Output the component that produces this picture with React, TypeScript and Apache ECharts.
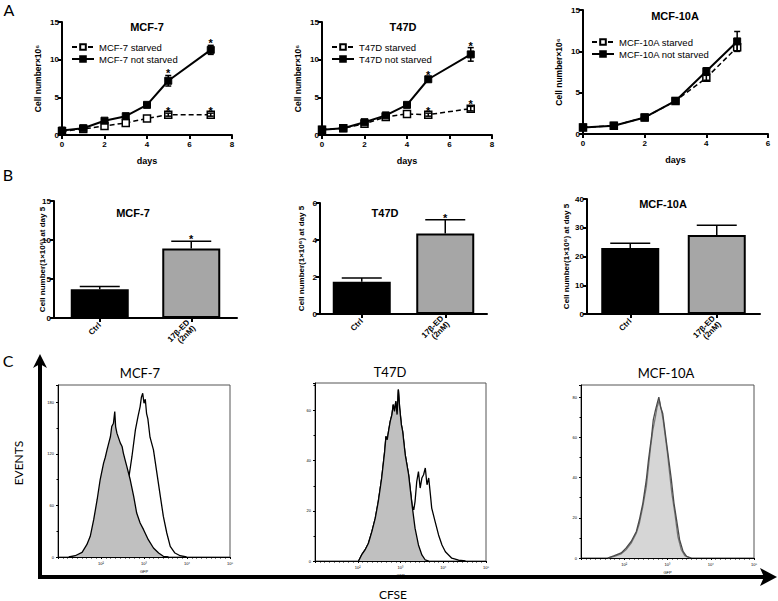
import React, { useEffect, useRef } from "react";
import * as echarts from "echarts";

const FONT = "Liberation Sans, Arial, sans-serif";
const CFONT = "Lato, 'Open Sans', sans-serif";

// ---------- Panel A: growth curves ----------
const daysA = [0, 1, 2, 3, 4, 5, 7];
const days10A = [0, 1, 2, 3, 4, 5];
const mcf7Starved = [0.5, 0.8, 1.2, 1.6, 2.2, 2.7, 2.7];
const mcf7StarvedErr = [0, 0, 0, 0, 0, 0.2, 0.2];
const mcf7StarvedStar = [0, 0, 0, 0, 0, 1, 1];
const mcf7NotStarved = [0.6, 0.9, 1.9, 2.5, 4.0, 7.2, 11.3];
const mcf7NotStarvedErr = [0, 0, 0, 0, 0.1, 0.7, 0.6];
const mcf7NotStarvedStar = [0, 0, 0, 0, 0, 1, 1];
const t47dStarved = [0.7, 0.9, 1.5, 2.4, 2.8, 2.7, 3.5];
const t47dStarvedErr = [0, 0, 0, 0, 0, 0.2, 0.3];
const t47dStarvedStar = [0, 0, 0, 0, 0, 1, 1];
const t47dNotStarved = [0.7, 0.9, 1.7, 2.6, 4.0, 7.4, 10.7];
const t47dNotStarvedErr = [0, 0, 0, 0, 0, 0.3, 0.9];
const t47dNotStarvedStar = [0, 0, 0, 0, 0, 1, 1];
const mcf10aStarved = [0.8, 1.0, 2.0, 4.0, 6.8, 10.5];
const mcf10aStarvedErr = [0, 0, 0, 0, 0.3, 0.5];
const mcf10aNotStarved = [0.8, 1.0, 2.0, 4.0, 7.6, 11.2];
const mcf10aNotStarvedErr = [0, 0, 0, 0, 0.4, 1.2];
const noStars6 = [0, 0, 0, 0, 0, 0];

// ---------- Panel B: bars at day 5 ----------
const barCats = ["Ctrl", "17β-ED\n(2nM)"];
const barIdx = [0, 1];
const mcf7Bar = [3.7, 8.9];
const mcf7BarErr = [0.35, 0.95];
const mcf7BarStar = [0, 1];
const t47dBar = [1.75, 4.35];
const t47dBarErr = [0.2, 0.75];
const t47dBarStar = [0, 1];
const mcf10aBar = [23.0, 27.5];
const mcf10aBarErr = [1.6, 3.4];
const mcf10aBarStar = [0, 0];

// ---------- Panel C: CFSE histograms (x = log10 fluorescence, y = events) ----------
const hMcf7Filled = [[1.25,0],[1.40,1.5],[1.56,5.4],[1.67,14.3],[1.75,24],[1.83,43.4],[1.91,66.6],[1.98,89.8],[2.06,109.1],[2.10,116],[2.14,124.6],[2.18,132.4],[2.22,140.1],[2.25,151.7],[2.29,155.6],[2.32,169.2],[2.34,151.7],[2.37,144],[2.41,138.2],[2.45,132.4],[2.49,128.5],[2.52,120.8],[2.56,113],[2.60,105.3],[2.68,89.8],[2.76,70.5],[2.83,51.1],[2.91,39.5],[2.99,31.8],[3.10,20.1],[3.22,10.5],[3.34,4.6],[3.45,0.8],[3.57,0]];
const hMcf7Open = [[1.94,0],[2.18,4.6],[2.33,16.3],[2.45,35.6],[2.56,62.7],[2.64,89.8],[2.72,116.9],[2.80,147.8],[2.86,163.3],[2.91,174.9],[2.94,185.8],[2.97,190.4],[3.00,178.8],[3.03,183.4],[3.06,166.8],[3.09,160.6],[3.14,139.3],[3.22,124.6],[3.30,97.5],[3.38,70.5],[3.45,47.2],[3.53,27.9],[3.61,12.4],[3.72,4.6],[3.84,1.5],[3.99,0]];
const hT47dFilled = [[2.02,0],[2.09,2.4],[2.17,4.4],[2.25,7.1],[2.33,11.7],[2.41,17.1],[2.48,23.7],[2.56,33.1],[2.63,43.7],[2.66,49.7],[2.69,48.4],[2.72,51.7],[2.76,55.7],[2.80,58.4],[2.83,62.4],[2.86,59.7],[2.89,63.7],[2.92,58.4],[2.95,68.4],[2.98,61.1],[3.02,54.4],[3.05,51.7],[3.11,42.4],[3.19,34.4],[3.27,22.4],[3.34,13.1],[3.42,6.4],[3.50,2.4],[3.58,0.4],[3.66,0]];
const hT47dOpen = [[2.02,0],[2.09,2.4],[2.17,4.4],[2.25,7.1],[2.33,11.7],[2.41,17.1],[2.48,23.7],[2.56,33.1],[2.63,43.7],[2.66,49.7],[2.69,48.4],[2.72,51.7],[2.76,55.7],[2.80,58.4],[2.83,62.4],[2.86,59.7],[2.89,63.7],[2.92,58.4],[2.95,68.4],[2.98,61.1],[3.02,54.4],[3.05,51.7],[3.11,42.4],[3.19,34.4],[3.27,22.4],[3.31,20.4],[3.34,23.7],[3.38,31.7],[3.42,35.7],[3.46,29.1],[3.50,33.1],[3.54,34.4],[3.58,37.1],[3.62,30.4],[3.66,33.1],[3.70,26.4],[3.73,21.1],[3.81,15.7],[3.89,10.4],[3.97,6.4],[4.05,3.7],[4.20,1.1],[4.36,0.3],[4.52,0]];
const hMcf10aFilled = [[1.62,0],[1.77,0.8],[1.93,2.1],[2.04,4.1],[2.16,7.4],[2.28,12.4],[2.35,17.3],[2.43,25.6],[2.51,35.5],[2.56,45.4],[2.61,55.3],[2.66,63.5],[2.72,70.1],[2.76,75.1],[2.81,78.4],[2.86,73.4],[2.90,68.5],[2.95,60.2],[3.00,52.0],[3.05,42.1],[3.10,32.2],[3.17,22.3],[3.24,10.7],[3.32,4.1],[3.40,1.2],[3.52,0]];
const hMcf10aOpen = [[1.62,0],[1.77,1.2],[1.93,2.5],[2.04,4.9],[2.16,8.2],[2.28,13.2],[2.35,19.0],[2.43,27.2],[2.51,38.8],[2.56,48.7],[2.63,60.2],[2.67,68.5],[2.72,73.4],[2.76,76.7],[2.80,80.0],[2.84,75.1],[2.89,71.8],[2.93,65.2],[2.98,56.9],[3.03,48.7],[3.09,38.8],[3.15,27.2],[3.21,19.0],[3.28,9.1],[3.36,3.3],[3.44,0.8],[3.55,0]];
const histXTicks = ["", "10²", "10³", "10⁴", "10⁵"];

const boldLabel = { color: "#000", fontFamily: FONT, fontWeight: "bold", fontSize: 8 };

function gpAxisBase() {
  return {
    axisLine: { show: true, lineStyle: { color: "#000", width: 2 } },
    axisTick: { show: true, length: 4, lineStyle: { color: "#000", width: 2 } },
    splitLine: { show: false },
  };
}

function lineX(g: number, max: number) {
  return {
    ...gpAxisBase(),
    gridIndex: g, type: "value", min: 0, max, interval: 2,
    name: "days", nameLocation: "middle", nameGap: 21,
    nameTextStyle: { ...boldLabel, fontSize: 9 },
    axisLabel: { ...boldLabel, margin: 5 },
  };
}
function lineY(g: number) {
  return {
    ...gpAxisBase(),
    gridIndex: g, type: "value", min: 0, max: 15, interval: 5,
    name: "Cell number×10⁶", nameLocation: "middle", nameGap: 20,
    nameTextStyle: { ...boldLabel, fontSize: 8.5 },
    axisLabel: { ...boldLabel, margin: 3 },
  };
}
function barX(g: number) {
  return {
    ...gpAxisBase(),
    gridIndex: g, type: "category", data: barCats,
    axisTick: { show: true, alignWithLabel: true, length: 4, lineStyle: { color: "#000", width: 2 } },
    axisLabel: { ...boldLabel, rotate: 45, margin: 6, lineHeight: 8 },
  };
}
function barY(g: number, max: number, interval: number, gap: number) {
  return {
    ...gpAxisBase(),
    gridIndex: g, type: "value", min: 0, max, interval,
    name: "Cell number(1×10⁶) at day 5", nameLocation: "middle", nameGap: gap,
    nameMoveOverlap: false,
    nameTextStyle: { ...boldLabel, fontSize: 8 },
    axisLabel: { ...boldLabel, margin: 3 },
  };
}
function histX(g: number) {
  return {
    gridIndex: g, type: "value", min: 1, max: 5, interval: 1,
    name: "GFP", nameLocation: "middle", nameGap: 12,
    nameTextStyle: { fontSize: 4, color: "#000" },
    axisLine: { show: true, lineStyle: { color: "#000", width: 1 } },
    axisTick: { show: true, length: 2, lineStyle: { color: "#000" } },
    minorTick: { show: true, splitNumber: 9, length: 1.5, lineStyle: { color: "#000" } },
    axisLabel: { fontSize: 4, color: "#000", margin: 4, formatter: (v: number) => histXTicks[Math.round(v) - 1] || "" },
    splitLine: { show: false },
    minorSplitLine: { show: false },
  };
}
function histY(g: number, max: number, interval: number) {
  return {
    gridIndex: g, type: "value", min: 0, max, interval,
    axisLine: { show: true, lineStyle: { color: "#000", width: 1 } },
    axisTick: { show: true, length: 2, lineStyle: { color: "#000" } },
    minorTick: { show: true, splitNumber: 2, length: 1.5, lineStyle: { color: "#000" } },
    axisLabel: { fontSize: 4, color: "#000", margin: 4, showMaxLabel: false },
    splitLine: { show: false },
    minorSplitLine: { show: false },
  };
}

function lineSeries(name: string, g: number, xs: number[], ys: number[], starved: boolean) {
  return {
    type: "line", name, xAxisIndex: g, yAxisIndex: g,
    data: xs.map((x, i) => [x, ys[i]]),
    symbol: "rect", symbolSize: 7, showAllSymbol: true,
    lineStyle: { color: "#000", width: starved ? 1.5 : 2, type: starved ? [5, 3] : "solid" },
    itemStyle: starved
      ? { color: "#fff", borderColor: "#000", borderWidth: 1.5 }
      : { color: "#000", borderColor: "#000", borderWidth: 1 },
    z: starved ? 3 : 4,
  };
}

function errSeries(g: number, xs: number[], ys: number[], errs: number[], stars: number[], both: boolean, cap: number) {
  return {
    type: "custom", xAxisIndex: g, yAxisIndex: g, silent: true, z: 10,
    data: xs.map((x, i) => [x, ys[i], errs[i], stars[i]]).filter((d) => d[2] > 0 || d[3] > 0),
    encode: { x: 0, y: 1 },
    renderItem: (_p: any, api: any) => {
      const x = api.value(0), y = api.value(1), e = api.value(2), s = api.value(3);
      const t = api.coord([x, y + e]);
      const b = api.coord([x, both ? y - e : y]);
      const hw = cap / 2;
      const st = { stroke: "#000", lineWidth: 1.5 };
      const children: any[] = [];
      if (e > 0) {
        children.push({ type: "line", shape: { x1: b[0], y1: b[1], x2: t[0], y2: t[1] }, style: st });
        children.push({ type: "line", shape: { x1: t[0] - hw, y1: t[1], x2: t[0] + hw, y2: t[1] }, style: st });
        if (both) children.push({ type: "line", shape: { x1: b[0] - hw, y1: b[1], x2: b[0] + hw, y2: b[1] }, style: st });
      }
      if (s) {
        children.push({ type: "text", x: t[0], y: t[1] - 2, style: { text: "*", fill: "#000", font: "bold 11px " + FONT, align: "center", verticalAlign: "middle" } });
      }
      return { type: "group", children };
    },
  };
}

function barSeries(g: number, vals: number[]) {
  return {
    type: "bar", xAxisIndex: g, yAxisIndex: g, barWidth: 58,
    data: vals.map((v, i) => ({ value: v, itemStyle: { color: i === 0 ? "#000" : "#a6a6a6", borderColor: "#000", borderWidth: 2 } })),
    z: 2,
  };
}

function hist(g: number, data: number[][], color: string, fill: string | null, z: number) {
  const s: any = {
    type: "line", xAxisIndex: g, yAxisIndex: g, data, symbol: "none", showSymbol: false,
    lineStyle: { color, width: 1.3 }, z, silent: true,
  };
  if (fill) s.areaStyle = { color: fill, opacity: 1 };
  return s;
}

function legendAt(left: number, top: number, names: string[]) {
  return {
    data: names, left, top, orient: "vertical", itemGap: 2, itemWidth: 22, itemHeight: 7, padding: 0,
    textStyle: { color: "#000", fontFamily: FONT, fontSize: 9.5 }, selectedMode: false,
  };
}

function txt(x: number, y: number, text: string, font: string, rotation = 0) {
  return { type: "text", x, y, rotation, style: { text, font, fill: "#000", align: "center", verticalAlign: "middle" } };
}

export default function App() {
  const ref = useRef<HTMLDivElement>(null);
  useEffect(() => {
    if (!ref.current) return;
    const chart = echarts.init(ref.current, null, { renderer: "svg" });
    const box = { show: true, borderColor: "#555", borderWidth: 1, backgroundColor: "transparent" };
    const option: any = {
      animation: false,
      backgroundColor: "#fff",
      grid: [
        { left: 62, top: 22, width: 170, height: 113 },
        { left: 322, top: 22, width: 170, height: 113 },
        { left: 583, top: 10, width: 185, height: 124 },
        { left: 54, top: 201, width: 183, height: 117 },
        { left: 320, top: 203, width: 167, height: 111 },
        { left: 587, top: 199, width: 173, height: 115 },
        { left: 58, top: 385, width: 172, height: 172, ...box },
        { left: 315, top: 383, width: 171, height: 178, ...box },
        { left: 581, top: 385, width: 173, height: 173, ...box },
      ],
      xAxis: [lineX(0, 8), lineX(1, 8), lineX(2, 6), barX(3), barX(4), barX(5), histX(6), histX(7), histX(8)],
      yAxis: [
        lineY(0), lineY(1), lineY(2),
        barY(3, 15, 5, 8), barY(4, 6, 2, 15), barY(5, 40, 10, 17),
        histY(6, 200, 60), histY(7, 71, 20), histY(8, 86, 20),
      ],
      legend: [
        legendAt(71, 42, ["MCF-7 starved", "MCF-7 not starved"]),
        legendAt(331, 42, ["T47D starved", "T47D not starved"]),
        legendAt(591, 37, ["MCF-10A starved", "MCF-10A not starved"]),
      ],
      series: [
        lineSeries("MCF-7 starved", 0, daysA, mcf7Starved, true),
        lineSeries("MCF-7 not starved", 0, daysA, mcf7NotStarved, false),
        errSeries(0, daysA, mcf7Starved, mcf7StarvedErr, mcf7StarvedStar, true, 6),
        errSeries(0, daysA, mcf7NotStarved, mcf7NotStarvedErr, mcf7NotStarvedStar, true, 6),
        lineSeries("T47D starved", 1, daysA, t47dStarved, true),
        lineSeries("T47D not starved", 1, daysA, t47dNotStarved, false),
        errSeries(1, daysA, t47dStarved, t47dStarvedErr, t47dStarvedStar, true, 6),
        errSeries(1, daysA, t47dNotStarved, t47dNotStarvedErr, t47dNotStarvedStar, true, 6),
        lineSeries("MCF-10A starved", 2, days10A, mcf10aStarved, true),
        lineSeries("MCF-10A not starved", 2, days10A, mcf10aNotStarved, false),
        errSeries(2, days10A, mcf10aStarved, mcf10aStarvedErr, noStars6, true, 6),
        errSeries(2, days10A, mcf10aNotStarved, mcf10aNotStarvedErr, noStars6, true, 6),
        barSeries(3, mcf7Bar),
        errSeries(3, barIdx, mcf7Bar, mcf7BarErr, mcf7BarStar, false, 40),
        barSeries(4, t47dBar),
        errSeries(4, barIdx, t47dBar, t47dBarErr, t47dBarStar, false, 40),
        barSeries(5, mcf10aBar),
        errSeries(5, barIdx, mcf10aBar, mcf10aBarErr, mcf10aBarStar, false, 40),
        hist(6, hMcf7Open, "#000", null, 2),
        hist(6, hMcf7Filled, "#000", "#c0c0c0", 3),
        hist(7, hT47dOpen, "#000", null, 2),
        hist(7, hT47dFilled, "#000", "#c0c0c0", 3),
        hist(8, hMcf10aOpen, "#4a4a4a", null, 3),
        hist(8, hMcf10aFilled, "#777", "#d6d6d6", 2),
      ],
      graphic: [
        txt(9, 9, "A", "16px " + CFONT),
        txt(8, 174, "B", "16px " + CFONT),
        txt(8, 360, "C", "16px " + CFONT),
        txt(147, 27, "MCF-7", "bold 11px " + FONT),
        txt(403, 27, "T47D", "bold 11px " + FONT),
        txt(675, 16, "MCF-10A", "bold 11px " + FONT),
        txt(133, 213, "MCF-7", "bold 11px " + FONT),
        txt(385, 213, "T47D", "bold 11px " + FONT),
        txt(663, 204, "MCF-10A", "bold 11px " + FONT),
        txt(140, 373, "MCF-7", "13px " + CFONT),
        txt(390, 372, "T47D", "13px " + CFONT),
        txt(666, 373, "MCF-10A", "13px " + CFONT),
        txt(18, 463, "EVENTS", "12px " + CFONT, Math.PI / 2),
        txt(393, 594, "CFSE", "12px " + CFONT),
        { type: "line", shape: { x1: 40, y1: 579, x2: 40, y2: 362 }, style: { stroke: "#000", lineWidth: 4 } },
        { type: "polygon", shape: { points: [[40, 354], [33, 368], [40, 364], [47, 368]] }, style: { fill: "#000" } },
        { type: "line", shape: { x1: 38, y1: 577, x2: 768, y2: 577 }, style: { stroke: "#000", lineWidth: 4 } },
        { type: "polygon", shape: { points: [[777, 577], [760, 568], [764, 577], [760, 586]] }, style: { fill: "#000" } },
      ],
    };
    chart.setOption(option);
    return () => chart.dispose();
  }, []);
  return <div ref={ref} style={{ position: "absolute", left: 0, top: 0, width: 778, height: 601 }} />;
}
